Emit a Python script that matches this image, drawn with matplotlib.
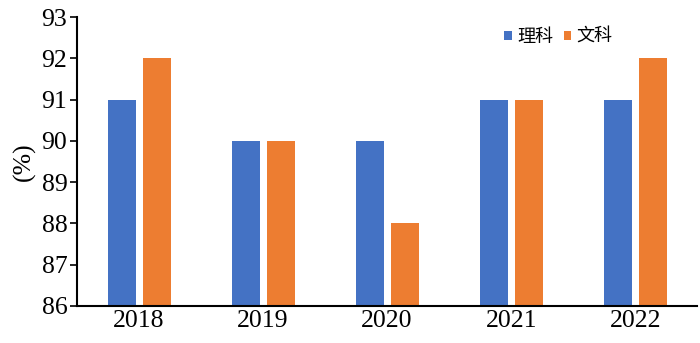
import matplotlib
matplotlib.use("Agg")
import matplotlib.pyplot as plt
import numpy as np

years = ["2018", "2019", "2020", "2021", "2022"]
science = [91, 90, 90, 91, 91]
arts = [92, 90, 88, 91, 92]
series_names = ["理科", "文科"]
yticks = [86, 87, 88, 89, 90, 91, 92, 93]

plt.rcParams['font.family'] = ['Liberation Serif', 'Noto Sans CJK SC', 'DejaVu Sans']

fig = plt.figure(figsize=(7, 3.43), dpi=100)
ax = fig.add_axes([0.11, 0.108, 0.886, 0.842])

x = np.arange(len(years))
w = 0.226
ax.bar(x - 0.14, science, width=w, bottom=0, color="#4472C4", label=series_names[0], zorder=2)
ax.bar(x + 0.143, arts, width=w, bottom=0, color="#ED7D31", label=series_names[1], zorder=2)

ax.set_ylim(86, 93)
ax.set_xlim(-0.5, len(years) - 0.5)
ax.set_yticks(yticks)
ax.set_xticks(x)
ax.set_xticklabels(years)
ax.tick_params(axis='x', length=0, labelsize=18.5, pad=3)
ax.tick_params(axis='y', length=5, width=1.2, direction='out', labelsize=18.5, pad=2)
for s in ['top', 'right']:
    ax.spines[s].set_visible(False)
ax.spines['left'].set_linewidth(1.5)
ax.spines['bottom'].set_linewidth(1.5)
ax.set_ylabel("(%)", fontsize=18.5, labelpad=4)

leg = ax.legend(loc='upper left', bbox_to_anchor=(0.663, 1.02), ncol=2, frameon=False,
                prop={'family': ['Noto Sans CJK SC'], 'size': 13},
                handlelength=0.4, handleheight=0.4, handletextpad=0.3, columnspacing=0.6)

fig.savefig("out.png", dpi=100)
